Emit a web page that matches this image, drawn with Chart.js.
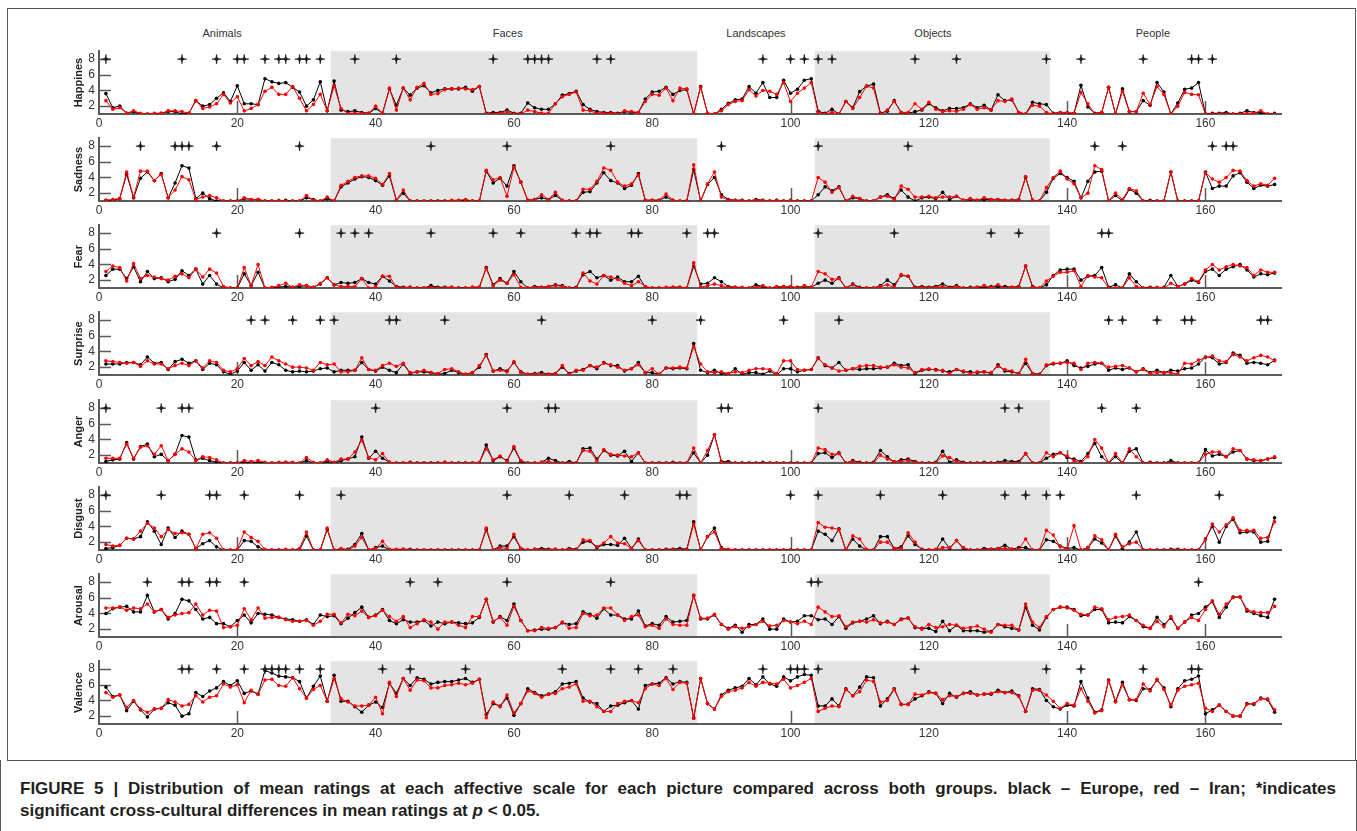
<!DOCTYPE html>
<html><head><meta charset="utf-8">
<script src="https://cdn.jsdelivr.net/npm/chart.js@4.4.1/dist/chart.umd.min.js"></script>
<style>
html,body{margin:0;padding:0;background:#fff;}
body{width:1357px;height:831px;overflow:hidden;position:relative;font-family:"Liberation Sans",Arial,sans-serif;}
canvas{position:absolute;left:0;}
.cat{position:absolute;top:27px;font-size:11px;color:#333;transform:translateX(-50%);white-space:nowrap;}
#frame{position:absolute;left:7px;top:8px;width:1349px;height:753px;border:1px solid #555;box-sizing:border-box;}
#capbox{position:absolute;left:0px;top:760px;width:1357px;height:71px;border-left:1px solid #555;border-right:1px solid #555;box-sizing:border-box;}
.capline{position:absolute;left:20px;font-weight:bold;font-size:17px;line-height:22px;color:#231f20;white-space:nowrap;}
#cap1{top:778px;width:1316px;text-align:justify;text-align-last:justify;white-space:normal;}
#cap2{top:800px;}
</style></head><body>
<div id="frame"></div>
<div id="capbox"></div>
<div class="capline" id="cap1">FIGURE 5 | Distribution of mean ratings at each affective scale for each picture compared across both groups. black – Europe, red – Iran; *indicates</div>
<div class="capline" id="cap2">significant cross-cultural differences in mean ratings at <i>p</i> &lt; 0.05.</div>
<script>
// ---------------- DATA ----------------
const pictureIds = Array.from({length:170}, (_, i) => i + 1);
const xTicks = [0,20,40,60,80,100,120,140,160];
const yTicks = [2,4,6,8];
const categoryNames = ['Animals','Faces','Landscapes','Objects','People'];
const categoryFirst = [1,34,87,104,138];
const categoryLast  = [33,86,103,137,170];
const shadedCategories = [1,3];
const starLevel = 8;

const happinessEurope = [3.6,1.8,2.0,1.1,1.3,1.0,1.0,1.0,1.1,1.3, 1.3,1.0,1.1,2.7,2.0,2.2,3.0,3.7,2.6,4.6, 2.3,2.3,2.2,5.5,5.1,4.9,5.0,4.4,3.8,2.0, 2.8,5.1,1.4,5.2,1.5,1.3,1.4,1.2,1.1,1.7, 1.1,4.2,2.1,4.3,3.4,4.3,4.6,3.7,4.0,4.2, 4.2,4.2,4.4,3.9,4.5,1.1,1.2,1.2,1.5,1.1, 1.1,2.4,1.8,1.6,1.6,2.3,3.4,3.6,3.9,2.2, 1.6,1.3,1.2,1.2,1.1,1.3,1.2,1.2,2.9,3.8, 3.9,4.4,3.5,4.0,4.1,1.0,4.5,1.1,1.0,1.6, 2.35,2.8,2.9,4.5,3.65,5.0,3.1,3.1,5.3,3.65, 4.15,5.3,5.5,1.35,1.1,1.6,1.0,2.6,1.8,3.85, 4.55,4.8,1.1,1.35,2.7,1.2,1.1,1.3,1.5,2.3, 1.8,1.4,1.7,1.7,1.8,2.3,1.8,2.1,1.5,3.45, 2.7,2.8,1.2,1.0,2.5,2.3,2.2,1.1,1.2,1.1, 1.1,4.65,1.9,1.1,1.2,4.4,1.0,4.2,1.3,1.3, 2.7,2.1,5.0,3.8,1.0,2.4,4.15,4.3,5.0,1.0, 1.1,1.1,1.2,1.0,1.1,1.4,1.2,1.2,1.0,1.1];
const happinessIran = [2.7,1.6,1.8,1.1,1.4,1.1,1.0,1.1,1.1,1.4, 1.4,1.3,1.1,2.7,1.7,1.9,2.3,3.5,2.4,3.2, 1.4,1.7,2.2,3.9,4.4,3.5,3.5,4.5,3.0,1.4, 2.2,3.5,1.4,4.6,1.7,1.1,1.1,1.1,1.1,2.0, 1.1,4.3,1.5,4.3,2.8,4.4,4.9,3.5,3.6,4.1, 4.2,4.3,4.2,4.1,4.5,1.0,1.0,1.1,1.3,1.0, 1.0,1.5,1.3,1.1,1.1,2.3,3.2,3.5,3.8,1.5, 1.4,1.1,1.1,1.1,1.0,1.4,1.3,1.2,2.6,3.5, 3.4,4.3,2.7,4.3,4.2,1.0,4.4,1.1,1.0,1.4, 2.2,2.6,2.7,4.1,3.3,4.0,3.9,3.5,5.0,2.6, 3.65,4.3,5.0,1.2,1.0,1.2,1.0,2.6,1.7,3.1, 4.55,4.3,1.0,1.5,2.6,1.2,1.2,2.3,1.6,2.5, 1.6,1.3,1.4,1.35,1.6,2.2,1.6,1.8,1.5,2.7, 2.6,2.9,1.2,1.0,2.1,2.0,1.2,1.0,1.2,1.2, 1.1,3.75,2.3,1.0,1.2,4.4,1.0,3.9,1.3,1.3, 3.65,2.2,4.5,3.5,1.0,2.0,3.75,3.5,3.45,1.0, 1.0,1.0,1.0,1.0,1.0,1.1,1.1,1.4,1.0,1.0];
const happinessStars = [1,12,17,20,21,24,26,27,29,30,32,37,43,57,62,63,64,65,72,74,96,100,102,104,106,118,124,137,142,151,158,159,161];

const sadnessEurope = [1.1,1.1,1.3,4.4,1.4,3.9,4.7,3.6,4.5,1.4, 3.3,5.5,5.2,1.3,2.0,1.3,1.0,1.0,1.0,1.0, 1.3,1.2,1.2,1.0,1.0,1.0,1.1,1.0,1.0,1.4, 1.2,1.0,1.3,1.0,2.8,3.3,3.8,4.1,4.0,3.6, 3.0,4.2,1.1,2.0,1.0,1.0,1.0,1.0,1.0,1.0, 1.0,1.0,1.1,1.0,1.0,4.8,3.3,3.9,2.9,5.5, 3.4,1.1,1.2,1.4,1.2,1.7,1.1,1.0,1.0,2.1, 2.2,3.3,4.6,3.6,3.3,2.6,3.0,4.5,1.1,1.1, 1.1,1.5,1.1,1.0,1.0,5.0,1.0,3.1,4.0,1.8, 1.2,1.1,1.1,1.0,1.2,1.1,1.0,1.1,1.0,1.1, 1.0,1.0,1.0,1.8,2.8,2.3,2.8,1.0,1.4,1.3, 1.0,1.0,1.5,1.8,1.3,2.4,1.5,1.0,1.4,1.5, 1.3,2.1,1.2,1.6,1.1,1.2,1.1,1.2,1.2,1.2, 1.1,1.1,1.2,4.0,1.1,1.0,2.1,3.9,4.5,4.0, 3.5,1.4,3.5,4.7,4.8,1.0,1.7,1.0,2.5,2.0, 1.0,1.1,1.0,1.0,4.7,1.0,1.0,1.0,1.0,4.7, 2.6,2.9,2.9,4.2,4.6,3.4,2.6,3.0,2.9,3.1];
const sadnessIran = [1.1,1.2,1.3,4.7,1.5,4.8,4.8,3.6,4.4,1.4, 2.4,4.1,3.7,1.2,1.5,1.7,1.4,1.0,1.0,1.0, 1.4,1.2,1.2,1.0,1.0,1.1,1.0,1.0,1.0,1.7, 1.1,1.0,1.5,1.0,3.0,3.5,4.0,4.2,4.2,3.9, 3.1,4.5,1.1,2.4,1.0,1.0,1.0,1.0,1.0,1.0, 1.1,1.1,1.2,1.0,1.0,4.9,3.7,4.0,1.6,5.3, 3.4,1.1,1.2,1.8,1.2,2.1,1.1,1.0,1.0,2.5, 2.5,3.5,5.2,4.9,3.4,2.9,3.2,4.3,1.1,1.1, 1.1,1.9,1.1,1.0,1.0,5.6,1.0,3.2,4.7,1.5, 1.1,1.1,1.1,1.0,1.1,1.1,1.0,1.1,1.0,1.1, 1.0,1.0,1.0,4.0,3.4,2.1,2.7,1.0,1.6,1.3, 1.0,1.0,1.5,1.6,1.2,2.9,2.5,1.5,1.5,1.6, 1.4,1.5,1.5,1.6,1.1,1.3,1.1,1.4,1.2,1.2, 1.1,1.1,1.2,4.1,1.1,1.0,2.7,4.0,4.8,3.8, 3.2,1.4,2.0,5.5,5.0,1.0,2.0,1.2,2.6,2.3, 1.0,1.0,1.0,1.0,4.7,1.0,1.0,1.0,1.0,4.6, 3.8,3.4,4.0,4.9,4.8,3.6,2.9,3.2,3.0,3.9];
const sadnessStars = [6,11,12,13,17,29,48,59,74,90,104,117,144,148,161,163,164];

const fearEurope = [2.6,3.4,3.4,2.2,3.7,1.8,3.1,2.2,2.3,1.8, 2.1,3.2,2.6,3.4,1.5,2.6,1.5,1.0,1.0,1.0, 2.8,1.3,3.0,1.0,1.0,1.1,1.2,1.1,1.2,1.3, 1.1,1.5,2.3,1.4,1.7,1.6,1.7,2.2,1.7,1.5, 2.5,1.9,1.2,1.1,1.1,1.0,1.0,1.3,1.1,1.1, 1.1,1.0,1.0,1.1,1.1,3.6,1.4,2.2,1.6,3.1, 1.8,1.0,1.2,1.1,1.2,1.4,1.3,1.0,1.1,2.7, 3.1,2.3,2.6,2.0,2.4,1.8,1.8,2.5,1.1,1.0, 1.0,1.0,1.1,1.1,1.0,3.8,1.5,1.6,2.3,1.8, 1.2,1.1,1.0,1.0,1.4,1.2,1.0,1.1,1.2,1.1, 1.1,1.2,1.1,1.6,2.0,1.6,2.3,1.0,1.5,1.1, 1.0,1.0,1.3,2.0,1.4,2.6,2.5,1.1,1.2,1.1, 1.2,1.5,1.1,1.3,1.0,1.1,1.1,1.1,1.2,1.2, 1.2,1.1,1.2,3.8,1.2,1.0,1.4,2.6,3.3,3.4, 3.4,2.0,2.5,2.6,3.6,1.1,1.4,1.0,2.8,1.8, 1.0,1.1,1.0,1.1,2.6,1.2,1.5,2.0,1.7,3.1, 3.4,2.6,3.4,3.7,4.0,3.3,2.4,2.8,2.7,2.9];
const fearIran = [3.1,3.8,3.6,1.9,4.1,2.2,2.6,2.4,2.2,2.0, 2.5,2.8,2.3,3.4,2.4,3.4,2.9,1.2,1.0,1.0, 3.6,1.3,4.0,1.0,1.1,1.3,1.6,1.1,1.4,1.3, 1.1,1.6,2.3,1.4,1.2,1.2,1.2,2.2,1.0,1.1, 2.5,2.5,1.1,1.0,1.1,1.0,1.0,1.1,1.0,1.0, 1.1,1.0,1.0,1.1,1.1,3.5,1.3,2.0,1.6,2.7, 1.1,1.0,1.1,1.1,1.2,1.3,1.2,1.0,1.0,2.9, 1.9,1.5,2.6,2.4,2.1,1.6,1.3,1.8,1.2,1.0, 1.0,1.1,1.1,1.1,1.0,4.2,1.1,1.3,1.5,1.3, 1.1,1.1,1.1,1.0,1.1,1.3,1.0,1.2,1.2,1.2, 1.0,1.3,1.1,3.1,2.8,2.1,2.2,1.0,1.4,1.0, 1.0,1.0,1.2,1.4,1.1,2.7,2.5,1.0,1.1,1.0, 1.1,1.2,1.0,1.2,1.0,1.0,1.1,1.3,1.1,1.4, 1.0,1.1,1.1,3.8,1.1,1.0,1.9,2.5,3.0,3.0, 3.2,1.2,2.6,2.4,2.3,1.0,1.0,1.0,2.3,1.2, 1.0,1.0,1.1,1.0,1.6,1.2,1.5,2.2,1.8,3.3, 4.0,3.3,3.7,4.0,3.8,3.6,2.6,3.3,3.0,3.0];
const fearStars = [17,29,35,37,39,48,57,61,69,71,72,77,78,85,88,89,104,115,129,133,145,146];

const surpriseEurope = [2.4,2.4,2.4,2.6,2.6,2.3,3.3,2.5,2.6,1.7, 2.7,3.0,2.5,2.8,1.7,2.5,2.3,1.4,1.1,1.5, 2.6,1.6,2.3,1.5,2.6,2.3,1.6,1.4,1.5,1.4, 1.5,1.8,1.9,1.4,1.6,1.6,1.6,2.6,1.7,1.5, 2.0,1.6,1.3,2.4,1.2,1.4,1.4,1.3,1.1,1.2, 1.6,1.3,1.1,1.3,2.0,3.6,1.5,1.8,1.5,2.6, 1.4,1.1,1.2,1.3,1.1,1.2,2.0,1.2,1.5,1.7, 2.2,1.8,2.6,2.2,2.2,1.5,1.8,2.6,1.3,1.3, 1.1,1.9,1.8,1.9,1.8,5.0,1.6,1.3,1.6,1.2, 1.1,1.8,1.1,1.3,1.3,1.1,1.5,1.0,1.8,1.8, 1.4,1.6,1.7,3.2,2.2,1.9,2.6,1.6,1.8,1.7, 1.8,1.8,1.9,2.0,2.5,2.2,2.3,1.2,1.6,1.7, 1.7,1.5,1.4,1.7,1.4,1.4,1.3,1.4,1.2,2.3, 1.5,1.4,1.2,2.5,1.2,1.1,2.2,2.4,2.5,2.8, 2.2,1.9,2.1,2.4,2.5,1.6,1.9,1.7,1.9,1.4, 1.8,1.3,1.6,1.3,1.6,1.5,1.8,1.9,2.4,3.3, 3.2,2.4,2.6,3.8,3.5,2.5,2.6,2.5,2.3,2.9];
const surpriseIran = [2.8,2.7,2.6,2.5,2.6,2.1,2.8,2.4,2.4,1.8, 2.2,2.5,2.2,2.8,1.9,2.8,2.6,1.6,1.4,1.8, 3.1,2.2,2.7,2.2,3.3,2.8,2.4,2.0,2.0,1.9, 1.6,2.6,2.3,2.4,1.4,1.4,1.6,3.2,1.7,1.6, 2.2,2.5,2.1,2.5,1.3,1.4,1.6,1.3,1.2,1.7, 1.8,1.4,1.1,1.3,2.2,3.5,1.5,1.6,1.4,2.7, 1.3,1.1,1.1,1.1,1.1,1.2,2.2,1.1,1.6,1.6, 2.2,2.0,2.5,2.3,2.0,1.6,1.8,2.3,1.3,1.8, 1.1,1.9,1.9,2.0,1.9,4.6,2.4,1.4,1.3,1.4, 1.2,1.4,1.3,1.6,1.8,1.8,1.7,1.2,2.8,2.8, 1.7,1.6,1.7,3.1,2.3,1.9,1.5,1.6,1.8,2.1, 2.2,2.2,2.0,2.0,2.3,2.0,1.9,1.3,1.7,1.8, 1.6,1.6,1.2,1.7,1.5,1.2,1.4,1.4,1.3,2.1, 1.7,1.5,1.1,3.0,1.2,1.0,2.3,2.5,2.5,2.6, 2.5,1.7,2.5,2.6,2.5,2.0,2.1,2.2,1.9,1.4, 1.7,1.2,1.3,1.3,1.3,1.1,2.5,2.4,2.9,3.2, 3.4,2.8,2.7,3.6,3.3,2.8,3.2,3.5,3.3,2.8];
const surpriseStars = [22,24,28,32,34,42,43,50,64,80,87,99,107,146,148,153,157,158,168,169];

const angerEurope = [1.2,1.4,1.5,3.6,1.5,3.1,3.4,1.8,2.1,1.3, 2.1,4.5,4.3,1.4,1.6,1.3,1.1,1.0,1.0,1.0, 1.1,1.0,1.1,1.0,1.0,1.0,1.1,1.0,1.0,1.3, 1.0,1.0,1.2,1.0,1.3,1.5,1.8,4.3,1.6,2.5, 1.6,1.1,1.0,1.0,1.1,1.0,1.0,1.0,1.0,1.1, 1.0,1.0,1.0,1.0,1.0,3.3,1.3,1.8,1.3,2.9, 1.2,1.0,1.0,1.1,1.6,1.3,1.0,1.2,1.0,2.8, 2.9,1.5,2.6,2.0,1.9,2.5,1.2,2.3,1.0,1.0, 1.0,1.0,1.1,1.0,1.0,2.3,1.0,2.0,4.6,1.2, 1.2,1.0,1.0,1.0,1.0,1.1,1.0,1.0,1.0,1.0, 1.0,1.0,1.0,2.2,2.3,1.7,2.3,1.0,1.3,1.1, 1.0,1.1,2.6,1.8,1.1,1.4,1.5,1.2,1.0,1.0, 1.1,2.5,1.1,1.4,1.1,1.0,1.0,1.1,1.0,1.1, 1.3,1.2,1.2,2.2,1.0,1.0,1.6,2.1,2.3,1.7, 1.5,1.2,2.2,3.5,1.8,1.0,1.8,1.0,2.5,2.8, 1.0,1.1,1.0,1.0,1.3,1.0,1.0,1.0,1.0,2.7, 1.9,2.1,1.8,2.4,2.6,1.5,1.3,1.3,1.5,1.7];
const angerIran = [1.6,1.6,1.6,3.4,1.6,3.0,3.2,2.1,3.2,1.3, 2.1,2.8,2.4,1.3,1.8,1.7,1.4,1.0,1.0,1.0, 1.3,1.2,1.3,1.1,1.0,1.1,1.1,1.1,1.0,1.7, 1.1,1.0,1.4,1.1,1.5,1.5,2.4,3.9,1.7,1.4, 2.2,1.1,1.0,1.0,1.1,1.0,1.0,1.0,1.0,1.1, 1.0,1.0,1.0,1.0,1.1,2.8,1.4,1.9,1.2,3.1, 1.3,1.0,1.0,1.1,1.2,1.0,1.0,1.0,1.0,2.6, 2.5,1.3,2.7,2.1,2.0,1.9,1.8,2.3,1.0,1.0, 1.0,1.0,1.0,1.0,1.0,2.9,1.0,2.6,4.6,1.1, 1.0,1.0,1.0,1.0,1.0,1.0,1.0,1.0,1.0,1.0, 1.0,1.0,1.0,2.9,2.7,2.1,2.2,1.0,1.2,1.0, 1.0,1.0,2.0,1.5,1.2,1.2,1.3,1.1,1.0,1.0, 1.0,1.9,1.7,1.2,1.0,1.0,1.0,1.0,1.0,1.0, 1.0,1.0,1.0,2.2,1.0,1.0,2.3,1.8,2.3,1.9, 1.3,1.0,1.8,4.0,2.9,1.0,2.2,1.0,2.8,1.8, 1.0,1.0,1.0,1.0,1.0,1.0,1.0,1.0,1.0,2.1, 2.4,2.4,1.8,2.8,2.6,1.5,1.4,1.3,1.5,1.8];
const angerStars = [1,9,12,13,40,59,65,66,90,91,104,131,133,145,150];

const disgustEurope = [1.2,1.3,1.6,2.5,2.4,2.7,4.6,3.4,1.7,3.8, 2.6,3.4,3.0,1.2,1.8,2.2,1.4,1.0,1.0,1.0, 2.2,2.1,1.4,1.0,1.0,1.0,1.0,1.0,1.0,2.8, 1.0,1.0,3.6,1.0,1.1,1.1,1.7,3.1,1.0,1.3, 1.5,1.0,1.0,1.1,1.1,1.0,1.0,1.0,1.0,1.0, 1.0,1.0,1.0,1.0,1.0,3.6,1.0,1.5,1.5,2.7, 1.2,1.0,1.1,1.2,1.1,1.1,1.0,1.2,1.1,2.0, 2.1,1.3,1.7,1.7,1.6,2.5,1.2,2.4,1.0,1.0, 1.0,1.1,1.1,1.2,1.1,4.6,1.0,2.7,3.8,1.3, 1.0,1.0,1.0,1.0,1.0,1.0,1.0,1.0,1.0,1.0, 1.0,1.0,1.0,3.4,3.0,2.2,3.7,1.0,2.4,1.5, 1.0,1.0,2.7,2.7,1.2,1.4,2.8,1.7,1.1,1.0, 1.0,2.4,1.2,2.2,1.2,1.0,1.0,1.2,1.1,1.2, 1.6,1.1,1.3,1.3,1.0,1.0,2.3,2.1,1.5,1.2, 1.3,1.0,1.3,2.4,1.9,1.0,2.8,1.2,2.0,3.3, 1.0,1.0,1.0,1.0,1.1,1.1,1.0,1.0,1.0,2.4, 4.0,2.0,4.0,4.9,3.2,3.3,3.3,2.0,2.1,5.1];
const disgustIran = [1.7,1.5,1.6,2.5,2.4,3.4,4.4,3.8,2.7,3.6, 3.1,3.2,3.0,1.2,3.0,3.2,2.5,1.0,1.0,1.1, 3.3,2.6,2.1,1.1,1.0,1.0,1.1,1.0,1.2,3.3, 1.0,1.0,3.8,1.0,1.2,1.0,1.5,2.6,1.0,1.2, 2.1,1.1,1.1,1.1,1.0,1.0,1.0,1.0,1.0,1.0, 1.0,1.0,1.0,1.0,1.0,3.8,1.0,1.3,1.2,3.0, 1.2,1.0,1.1,1.0,1.0,1.1,1.0,1.1,1.0,2.3, 2.2,1.4,1.9,2.7,1.9,1.8,1.2,2.2,1.0,1.0, 1.0,1.0,1.0,1.0,1.0,4.3,1.0,2.7,3.3,1.2, 1.1,1.0,1.0,1.0,1.0,1.0,1.0,1.0,1.0,1.0, 1.0,1.0,1.0,4.5,3.9,3.8,3.6,1.0,2.8,2.4, 1.1,1.0,2.0,2.0,1.2,1.2,3.2,2.0,1.0,1.0, 1.1,1.3,1.3,2.2,1.3,1.0,1.0,1.0,1.1,1.2, 1.2,1.1,1.1,2.4,1.0,1.0,3.5,2.9,1.4,1.1, 4.1,1.0,1.3,2.8,2.3,1.0,3.0,1.4,1.8,2.0, 1.0,1.0,1.0,1.0,1.0,1.0,1.0,1.0,1.0,2.3, 4.3,3.3,4.2,5.1,3.5,3.5,3.5,2.5,2.6,4.6];
const disgustStars = [1,9,16,17,21,29,35,59,68,76,84,85,100,104,113,122,131,134,137,139,150,162];

const arousalEurope = [4.0,4.6,4.8,4.9,4.2,4.2,6.3,4.2,4.5,3.3, 4.0,5.8,5.6,4.5,3.3,3.5,2.7,2.7,2.3,3.1, 3.8,2.8,4.0,3.9,3.8,3.5,3.3,3.2,3.0,3.2, 2.6,3.8,3.6,3.7,2.7,3.4,4.1,4.8,3.5,3.8, 4.5,3.1,2.7,3.2,2.9,2.9,3.1,2.4,2.9,2.7, 2.9,2.8,2.7,2.8,3.5,5.8,2.9,3.6,3.1,5.2, 3.1,1.8,1.9,2.0,2.0,2.2,2.8,2.6,2.7,4.2, 3.9,3.4,4.6,3.8,3.8,3.3,3.3,4.3,2.4,2.7, 2.5,3.6,2.9,3.0,3.1,6.3,3.3,3.3,3.8,2.6, 2.1,2.5,1.6,2.6,2.6,3.3,2.0,2.0,3.3,2.9, 3.0,3.7,3.7,3.2,3.3,2.6,3.6,2.1,2.8,3.0, 3.3,3.7,2.7,3.0,2.6,3.3,3.4,2.2,2.1,2.1, 1.7,3.0,1.8,2.5,1.8,1.8,1.8,1.6,1.7,2.6, 2.3,2.1,1.9,4.8,2.5,1.9,3.5,4.5,4.8,4.8, 4.5,3.7,3.8,4.5,4.5,2.8,2.9,2.8,3.6,3.1, 2.3,2.1,3.5,2.6,3.4,2.1,2.9,3.8,4.0,4.8, 5.5,3.5,4.8,6.1,6.1,4.3,4.0,3.7,3.5,5.8];
const arousalIran = [4.7,4.7,4.8,4.4,4.7,4.6,5.2,4.2,4.5,3.5, 3.8,4.0,4.1,5.2,3.8,4.4,4.3,2.2,2.3,2.5, 4.6,3.2,4.7,3.4,3.5,3.5,3.2,3.0,3.0,3.1, 2.5,3.0,3.9,3.9,2.8,3.9,3.7,4.3,3.5,3.7, 4.4,3.6,3.0,3.6,2.2,2.7,3.2,2.9,2.0,2.9, 2.9,2.5,2.2,3.6,3.6,5.8,3.0,3.5,2.5,4.9, 3.1,1.8,1.8,2.2,2.1,2.2,2.9,2.1,2.2,4.0, 3.7,3.8,4.7,4.7,3.8,3.1,3.6,3.8,2.3,2.5, 2.1,3.3,2.6,2.5,2.5,6.3,3.4,3.4,3.9,2.6, 2.0,2.3,2.1,2.3,2.6,3.0,2.4,2.5,3.1,2.9, 2.7,3.0,2.6,4.8,4.2,3.6,3.7,2.3,2.9,3.0, 2.9,3.2,2.8,2.9,2.6,3.2,3.4,2.3,2.0,2.6, 2.2,2.3,2.6,2.5,2.1,2.2,2.4,2.0,1.6,2.6, 2.5,2.5,1.9,5.2,2.9,2.2,3.6,4.5,4.8,4.7, 4.4,3.9,3.8,4.8,4.6,3.2,3.5,3.6,3.8,3.1, 2.5,2.1,3.0,2.3,3.6,2.1,2.9,3.5,3.1,4.5, 5.6,3.9,5.2,6.0,6.1,4.5,4.2,4.1,4.1,4.9];
const arousalStars = [7,12,13,16,17,21,45,49,59,74,103,104,159];

const valenceEurope = [5.7,4.5,4.7,2.7,3.9,2.8,1.9,2.9,3.0,3.7, 3.4,2.0,2.3,5.0,4.5,5.2,5.6,6.4,5.9,6.5, 4.9,5.2,4.8,7.8,7.5,7.1,7.0,6.9,6.4,4.3, 5.8,7.1,3.9,7.2,3.9,3.9,3.2,2.5,3.4,3.8, 3.1,6.2,4.9,6.8,5.9,6.9,6.7,6.1,6.3,6.4, 6.4,6.6,6.8,6.3,6.7,2.2,3.6,3.3,4.3,2.1, 3.6,5.5,5.0,4.6,4.8,5.1,6.1,6.2,6.4,4.3, 3.8,3.6,2.6,3.3,3.4,3.7,4.0,2.9,5.9,6.1, 6.2,6.9,6.1,6.4,6.3,1.8,6.8,3.6,2.9,4.7, 5.3,5.6,5.8,6.8,6.0,7.0,6.1,5.8,7.0,6.5, 7.0,7.3,7.2,3.3,3.3,4.2,3.3,5.5,4.6,5.7, 7.0,6.9,3.3,4.2,5.5,3.5,3.5,4.2,4.6,5.1, 4.9,3.6,4.9,4.4,4.9,5.1,4.7,4.8,4.8,5.3, 5.0,5.2,4.6,2.6,5.5,5.4,4.0,3.2,2.9,3.4, 3.3,6.4,4.3,2.5,2.8,6.6,3.9,6.3,4.1,4.0, 5.5,5.4,6.6,5.6,3.2,5.5,6.5,6.7,7.1,2.3, 2.8,3.4,2.6,2.0,2.0,3.6,3.5,4.3,4.1,2.5];
const valenceIran = [5.0,4.4,4.7,3.1,4.0,2.9,2.5,2.9,3.0,4.1, 3.8,3.3,3.5,4.6,3.8,4.4,4.6,6.1,5.7,6.0, 3.7,5.3,4.8,6.6,6.7,5.9,5.8,6.9,5.5,4.3, 5.4,5.9,3.9,6.8,4.2,3.8,3.3,3.3,3.4,4.4, 2.3,6.3,4.5,6.8,5.3,6.6,6.5,5.6,5.6,5.9, 6.0,6.2,6.0,6.2,6.7,1.8,3.8,3.2,4.7,2.4, 3.6,5.2,4.9,4.4,4.8,4.9,5.5,5.7,6.1,3.9, 3.9,3.2,2.6,2.6,3.6,3.9,4.0,3.7,5.5,6.1, 5.9,6.8,5.4,6.3,6.2,1.7,6.8,3.6,2.9,4.5, 5.1,5.3,5.6,6.3,5.8,6.3,6.2,6.1,6.7,5.6, 5.9,6.3,6.8,2.6,3.0,3.3,3.2,5.4,4.6,5.1, 6.6,6.4,3.8,4.0,5.4,3.5,3.5,4.8,4.7,5.0, 4.9,4.1,4.6,4.5,4.9,4.9,4.7,4.8,4.9,5.1, 5.0,5.0,4.5,2.6,5.3,5.3,4.7,3.9,3.0,3.6, 3.4,5.5,3.9,2.4,2.7,6.5,3.8,6.0,4.1,4.1, 6.1,5.2,6.7,5.4,3.4,5.3,5.8,6.0,6.2,3.0, 2.6,3.4,2.6,2.0,2.0,3.5,3.6,4.2,4.2,2.8];
const valenceStars = [12,13,17,21,24,25,26,27,29,32,41,45,53,67,74,78,83,96,100,101,102,104,118,137,142,151,158,159];

const scaleNames = ['Happines','Sadness','Fear','Surprise','Anger','Disgust','Arousal','Valence'];
const europeSeries = [happinessEurope,sadnessEurope,fearEurope,surpriseEurope,angerEurope,disgustEurope,arousalEurope,valenceEurope];
const iranSeries = [happinessIran,sadnessIran,fearIran,surpriseIran,angerIran,disgustIran,arousalIran,valenceIran];
const starSeries = [happinessStars,sadnessStars,fearStars,surpriseStars,angerStars,disgustStars,arousalStars,valenceStars];

// ---------------- LAYOUT / STYLE ----------------
const FONT = '"Liberation Sans", Arial, Helvetica, sans-serif';
Chart.defaults.font.family = FONT;
const X_MIN = 0, X_MAX = 171, Y_MIN = 1, Y_MAX = 9;
const PANEL_TOP0 = 50, PANEL_STEP = 87.15, PLOT_H = 64, PAD_T = 10, XAX_H = 22, YAX_W = 99, PLOT_RIGHT = 1281.5;
const CAT_LABEL_AT = [17.8, 59.1, 95, 120.6, 152.4];

const panelDecor = {
  id: 'panelDecor',
  beforeDatasetsDraw(chart) {
    const {ctx, chartArea: a, scales: {x, y}} = chart;
    ctx.save();
    ctx.strokeStyle = '#5a5a5a';
    ctx.lineWidth = 1.5;
    yTicks.forEach(v => {
      const py = Math.round(y.getPixelForValue(v)) + 0.5;
      ctx.beginPath(); ctx.moveTo(a.left, py); ctx.lineTo(a.left + 12, py); ctx.stroke();
    });
    xTicks.forEach(v => {
      if (v === X_MIN) return;
      const px = Math.round(x.getPixelForValue(v)) + 0.5;
      ctx.beginPath(); ctx.moveTo(px, a.bottom); ctx.lineTo(px, a.bottom - 13); ctx.stroke();
    });
    ctx.fillStyle = '#e4e4e4';
    shadedCategories.forEach(ci => {
      const x0 = x.getPixelForValue(categoryFirst[ci] - 0.5);
      const x1 = x.getPixelForValue(categoryLast[ci] + 0.5);
      const y0 = y.getPixelForValue(Y_MAX);
      const y1 = y.getPixelForValue(Y_MIN) - 1;
      ctx.fillRect(x0, y0, x1 - x0, y1 - y0);
    });
    ctx.restore();
  }
};

let firstChart = null;
scaleNames.forEach((name, k) => {
  const c = document.createElement('canvas');
  c.width = 1357;
  c.height = PAD_T + PLOT_H + XAX_H;
  c.style.top = (Math.round(PANEL_TOP0 + k * PANEL_STEP) - PAD_T) + 'px';
  document.body.appendChild(c);
  const eu = europeSeries[k], ir = iranSeries[k], st = starSeries[k];
  const lineStyle = (col) => ({borderColor: col, backgroundColor: col, pointBackgroundColor: col, pointBorderColor: col,
    borderWidth: 1, pointRadius: 1.8, pointBorderWidth: 0, pointHoverRadius: 0, tension: 0});
  const starPts = st.map(v => ({x: v, y: starLevel}));
  const ch = new Chart(c, {
    type: 'line',
    data: {
      datasets: [
        {label: 'significant', type: 'scatter', data: starPts, showLine: false,
         pointStyle: 'cross', pointRadius: 4.6, borderColor: '#222', backgroundColor: '#222', borderWidth: 1.3, pointHoverRadius: 0},
        {label: 'significant-core', type: 'scatter', data: starPts, showLine: false,
         pointStyle: 'rectRot', pointRadius: 2.3, borderColor: '#222', backgroundColor: '#222', borderWidth: 0.5, pointHoverRadius: 0},
        Object.assign({label: 'Iran', data: pictureIds.map((v, i) => ({x: v, y: ir[i]}))}, lineStyle('#ff0000')),
        Object.assign({label: 'Europe', data: pictureIds.map((v, i) => ({x: v, y: eu[i]}))}, lineStyle('#000000'))
      ]
    },
    options: {
      responsive: false, animation: false, devicePixelRatio: 1,
      events: [],
      layout: {padding: {left: 0, right: 1357 - PLOT_RIGHT, top: PAD_T, bottom: 0}},
      plugins: {legend: {display: false}, tooltip: {enabled: false}},
      scales: {
        x: {
          type: 'linear', min: X_MIN, max: X_MAX,
          afterBuildTicks: s => { s.ticks = xTicks.map(v => ({value: v})); },
          afterFit: s => { s.height = XAX_H; },
          grid: {display: false, drawTicks: false},
          border: {display: true, color: '#5a5a5a', width: 2},
          ticks: {padding: 2, color: '#333', font: {size: 12}, maxRotation: 0, autoSkip: false}
        },
        y: {
          min: Y_MIN, max: Y_MAX,
          afterBuildTicks: s => { s.ticks = yTicks.map(v => ({value: v})); },
          afterFit: s => { s.width = YAX_W; },
          grid: {display: false, drawTicks: false},
          border: {display: true, color: '#5a5a5a', width: 2},
          ticks: {padding: 4, color: '#333', font: {size: 12}, autoSkip: false},
          title: {display: true, text: name, color: '#222', font: {size: 11, weight: 'bold'}, padding: {top: 72, bottom: 0}}
        }
      }
    },
    plugins: [panelDecor]
  });
  if (k === 0) firstChart = ch;
});

// category labels above first panel
categoryNames.forEach((n, i) => {
  const d = document.createElement('div');
  d.className = 'cat';
  d.textContent = n;
  d.style.left = firstChart.scales.x.getPixelForValue(CAT_LABEL_AT[i]) + 'px';
  document.body.appendChild(d);
});
</script>
</body></html>
